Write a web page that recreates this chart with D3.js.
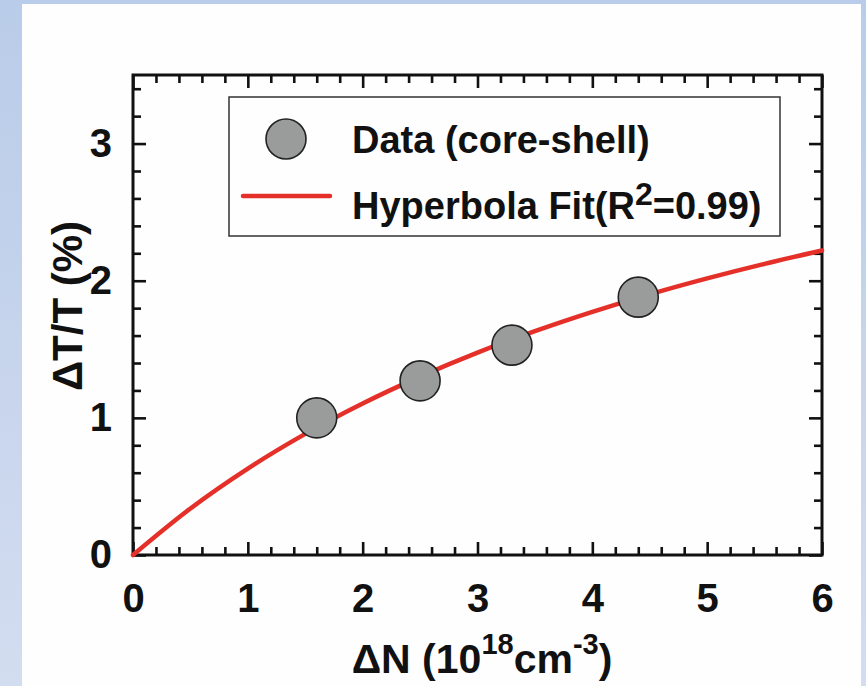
<!DOCTYPE html>
<html>
<head>
<meta charset="utf-8">
<script src="https://cdn.jsdelivr.net/npm/d3@7"></script>
<style>
  html, body { margin: 0; padding: 0; }
  body { width: 866px; height: 686px; overflow: hidden;
         background: linear-gradient(180deg, #b9cce9 0%, #c6d4ec 50%, #d3ddf0 100%); }
  svg { display: block; font-family: "Liberation Sans", Arial, sans-serif; font-weight: bold; }
</style>
</head>
<body>
<svg id="chart" width="866" height="686"></svg>
<script>
// Measured points: carrier density (1e18 cm^-3) vs transmission change (%)
const densities = [1.6, 2.5, 3.3, 4.4];
const transmission = [1.0, 1.27, 1.53, 1.88];

// Hyperbola fit curve, sampled along the density axis
const fitX = [0, 0.5, 1, 1.5, 2, 2.5, 3, 3.5, 4, 4.5, 5, 5.5, 6];
const fitY = [0, 0.339, 0.630, 0.883, 1.105, 1.301, 1.476, 1.632, 1.773, 1.901, 2.017, 2.123, 2.220];

// Axis ticks
const xTicks = [0, 1, 2, 3, 4, 5, 6];
const yTicks = [0, 1, 2, 3];
const xMinor = d3.range(0, 6.001, 0.2).filter(v => Math.abs(v - Math.round(v)) > 1e-6);
const yMinor = d3.range(0, 3.501, 0.2).filter(v => Math.abs(v - Math.round(v)) > 1e-6);

const legendLabels = ["Data (core-shell)", "Hyperbola Fit(R", "2", "=0.99)"];

const svg = d3.select("#chart");

// White page panel
svg.append("rect").attr("x", 22).attr("y", 4).attr("width", 839).attr("height", 682).attr("fill", "#fefefe");

const plotLeft = 133, plotRight = 822, plotTop = 75, plotBottom = 555;
const x = d3.scaleLinear().domain([0, 6]).range([plotLeft, plotRight]);
const y = d3.scaleLinear().domain([0, 3.5]).range([plotBottom, plotTop]);

function styleAxis(g) {
  g.select(".domain").remove();
  g.selectAll(".tick line").attr("stroke", "#111").attr("stroke-width", 2.6);
  g.selectAll("text").attr("fill", "#111").attr("font-size", 40).attr("font-weight", "bold")
    .attr("font-family", "'Liberation Sans', Arial, sans-serif");
}

// Bottom axis
svg.append("g").attr("transform", `translate(0,${plotBottom})`)
  .call(d3.axisBottom(x).tickValues(xTicks).tickSize(-13).tickPadding(29).tickFormat(d3.format("d")))
  .call(styleAxis);
svg.append("g").attr("transform", `translate(0,${plotBottom})`)
  .call(d3.axisBottom(x).tickValues(xMinor).tickSize(-8).tickFormat(""))
  .call(styleAxis);
// Top axis (mirror)
svg.append("g").attr("transform", `translate(0,${plotTop})`)
  .call(d3.axisTop(x).tickValues(xTicks).tickSize(-13).tickFormat(""))
  .call(styleAxis);
svg.append("g").attr("transform", `translate(0,${plotTop})`)
  .call(d3.axisTop(x).tickValues(xMinor).tickSize(-8).tickFormat(""))
  .call(styleAxis);
// Left axis
svg.append("g").attr("transform", `translate(${plotLeft},0)`)
  .call(d3.axisLeft(y).tickValues(yTicks).tickSize(-13).tickPadding(21).tickFormat(d3.format("d")))
  .call(styleAxis);
svg.append("g").attr("transform", `translate(${plotLeft},0)`)
  .call(d3.axisLeft(y).tickValues(yMinor).tickSize(-8).tickFormat(""))
  .call(styleAxis);
// Right axis (mirror)
svg.append("g").attr("transform", `translate(${plotRight},0)`)
  .call(d3.axisRight(y).tickValues(yTicks).tickSize(-13).tickFormat(""))
  .call(styleAxis);
svg.append("g").attr("transform", `translate(${plotRight},0)`)
  .call(d3.axisRight(y).tickValues(yMinor).tickSize(-8).tickFormat(""))
  .call(styleAxis);

// Frame
svg.append("rect").attr("x", plotLeft).attr("y", plotTop)
  .attr("width", plotRight - plotLeft).attr("height", plotBottom - plotTop)
  .attr("fill", "none").attr("stroke", "#111").attr("stroke-width", 3);

// Fit curve
const line = d3.line().x((d, i) => x(fitX[i])).y(d => y(d)).curve(d3.curveMonotoneX);
svg.append("path").datum(fitY).attr("d", line)
  .attr("fill", "none").attr("stroke", "#e5302a").attr("stroke-width", 4.5).attr("stroke-linecap", "round");

// Data points
svg.append("g").selectAll("circle").data(densities).join("circle")
  .attr("cx", d => x(d)).attr("cy", (d, i) => y(transmission[i])).attr("r", 20)
  .attr("fill", "#9a9c9b").attr("stroke", "#222").attr("stroke-width", 1.6);

// Legend
const lg = svg.append("g");
lg.append("rect").attr("x", 229).attr("y", 97).attr("width", 551).attr("height", 139)
  .attr("fill", "#fefefe").attr("stroke", "#333").attr("stroke-width", 1.5);
lg.append("circle").attr("cx", 286).attr("cy", 139).attr("r", 20)
  .attr("fill", "#9a9c9b").attr("stroke", "#222").attr("stroke-width", 1.6);
lg.append("line").attr("x1", 243).attr("x2", 330).attr("y1", 196).attr("y2", 196)
  .attr("stroke", "#e5302a").attr("stroke-width", 4.5).attr("stroke-linecap", "round");
lg.append("text").attr("x", 352).attr("y", 153).attr("font-size", 38).attr("fill", "#111")
  .text(legendLabels[0]);
const t2 = lg.append("text").attr("x", 352).attr("y", 219).attr("font-size", 38).attr("fill", "#111");
t2.append("tspan").text(legendLabels[1]);
t2.append("tspan").attr("dy", -14).attr("font-size", 32).text(legendLabels[2]);
t2.append("tspan").attr("dy", 14).text(legendLabels[3]);

// X axis title
const xt = svg.append("text").attr("x", 482).attr("y", 673).attr("text-anchor", "middle")
  .attr("font-size", 41).attr("fill", "#111");
xt.append("tspan").text("\u0394N (10");
xt.append("tspan").attr("dy", -19).attr("font-size", 29).text("18");
xt.append("tspan").attr("dy", 19).text("cm");
xt.append("tspan").attr("dy", -19).attr("font-size", 29).text("-3");
xt.append("tspan").attr("dy", 19).text(")");

// Y axis title
svg.append("text").attr("transform", `translate(82,306) rotate(-90)`)
  .attr("text-anchor", "middle").attr("font-size", 42).attr("fill", "#111")
  .text("\u0394T/T (%)");
</script>
</body>
</html>
